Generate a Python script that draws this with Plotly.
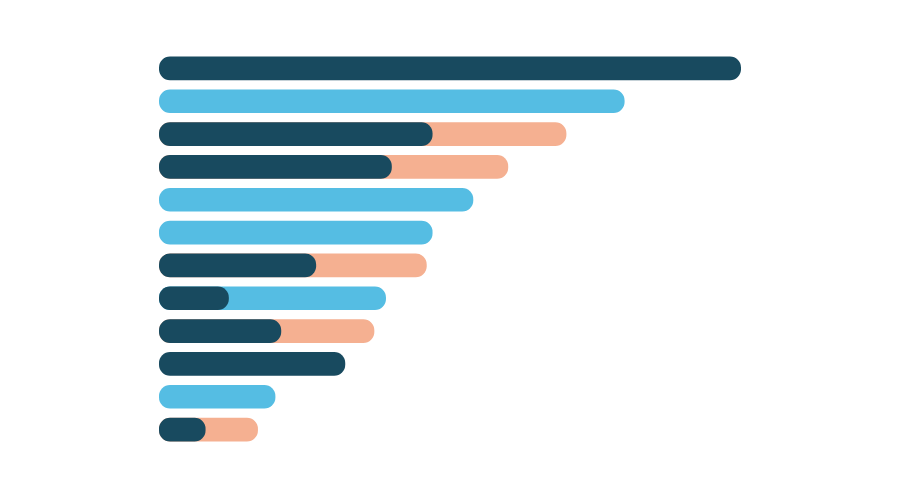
import plotly.graph_objects as go

# rows top to bottom; labels are not shown in the chart
categories = [f"Row {i}" for i in range(1, 13)]

# dark segment drawn on top, starting at zero
dark_values = [100, None, 47, 40, None, None, 27, 12, 21, 32, None, 8]
# full-length bars behind the dark segment
light_values = [None, 80, None, None, 54, 47, None, 39, None, None, 20, None]
peach_values = [None, None, 70, 60, None, None, 46, None, 37, None, None, 17]

DARK = "#184a5f"
LIGHT = "#55bde3"
PEACH = "#f5b091"


def capsule_trace(values, color, name):
    cats = [c for c, v in zip(categories, values) if v is not None]
    vals = [v for v in values if v is not None]
    # an explicit base makes plotly round both ends of the bar
    return go.Bar(
        y=cats,
        x=vals,
        base=[0] * len(vals),
        orientation="h",
        marker={"color": color, "cornerradius": "50%", "line": {"width": 0}},
        name=name,
        hoverinfo="skip",
        showlegend=False,
    )


fig = go.Figure()
fig.add_trace(capsule_trace(light_values, LIGHT, "light"))
fig.add_trace(capsule_trace(peach_values, PEACH, "peach"))
fig.add_trace(capsule_trace(dark_values, DARK, "dark"))

fig.update_layout(
    width=900,
    height=502,
    barmode="overlay",
    bargap=0.28,
    margin={"l": 151, "r": 167, "t": 44, "b": 64},
    paper_bgcolor="white",
    plot_bgcolor="white",
    xaxis={
        "range": [0, 100],
        "showgrid": False,
        "zeroline": False,
        "showticklabels": False,
        "showline": False,
    },
    yaxis={
        "categoryorder": "array",
        "categoryarray": categories,
        "autorange": "reversed",
        "showgrid": False,
        "zeroline": False,
        "showticklabels": False,
        "showline": False,
    },
)

fig.write_html("out.html")
